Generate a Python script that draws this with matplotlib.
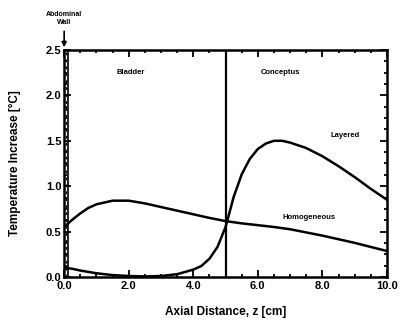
import matplotlib.pyplot as plt
import numpy as np
from matplotlib.ticker import MultipleLocator

# Data
z_hom = [0.0, 0.25, 0.5, 0.75, 1.0, 1.5, 2.0, 2.5, 3.0, 3.5, 4.0, 4.5, 5.0,
         5.5, 6.0, 6.5, 7.0, 7.5, 8.0, 8.5, 9.0, 9.5, 10.0]
t_hom = [0.55, 0.63, 0.70, 0.76, 0.80, 0.84, 0.84, 0.81, 0.77, 0.73, 0.69, 0.65, 0.615,
         0.59, 0.57, 0.55, 0.525, 0.49, 0.455, 0.415, 0.375, 0.33, 0.285]

z_lay = [0.0, 0.25, 0.5, 1.0, 1.5, 2.0, 2.5, 3.0, 3.5, 4.0, 4.25, 4.5, 4.75, 5.0,
         5.1, 5.25, 5.5, 5.75, 6.0, 6.25, 6.5, 6.75, 7.0, 7.5, 8.0, 8.5, 9.0, 9.5, 10.0]
t_lay = [0.10, 0.09, 0.07, 0.04, 0.02, 0.01, 0.005, 0.01, 0.03, 0.08, 0.12, 0.20, 0.33, 0.55,
         0.68, 0.88, 1.13, 1.30, 1.41, 1.47, 1.50, 1.50, 1.48, 1.42, 1.33, 1.22, 1.10, 0.97, 0.85]

boundary_z = 5.0
wall_width = 0.12

plt.rcParams['font.family'] = ['Liberation Sans', 'DejaVu Sans']
plt.rcParams['font.weight'] = 'bold'

fig = plt.figure(figsize=(4.01, 3.25), dpi=100)
ax = fig.add_axes([0.160, 0.148, 0.805, 0.698])

ax.plot(z_hom, t_hom, color='black', lw=1.8)
ax.plot(z_lay, t_lay, color='black', lw=1.8)
ax.axvline(boundary_z, color='black', lw=1.6)

# abdominal wall strip
ax.axvline(wall_width, color='black', lw=1.2)
ax.axvline(wall_width / 2, color='black', lw=1.0, ls=(0, (2, 3)))

ax.set_xlim(0, 10)
ax.set_ylim(0, 2.5)
ax.xaxis.set_major_locator(MultipleLocator(2))
ax.xaxis.set_minor_locator(MultipleLocator(0.5))
ax.yaxis.set_major_locator(MultipleLocator(0.5))
ax.yaxis.set_minor_locator(MultipleLocator(0.125))
ax.xaxis.set_major_formatter(plt.FormatStrFormatter('%.1f'))
ax.yaxis.set_major_formatter(plt.FormatStrFormatter('%.1f'))
ax.tick_params(which='both', direction='in', top=True, right=True, width=1.3)
ax.tick_params(which='major', length=5, labelsize=8)
ax.tick_params(axis='x', which='major', pad=3)
ax.tick_params(axis='y', which='major', pad=2)
ax.tick_params(which='minor', length=2.5)
for s in ax.spines.values():
    s.set_linewidth(1.8)

ax.set_xlabel('Axial Distance, z [cm]', fontsize=8.5, fontweight='bold', labelpad=11)
ax.set_ylabel('Temperature Increase [°C]', fontsize=8.5, fontweight='bold', labelpad=18)

ax.text(2.05, 2.25, 'Bladder', fontsize=5.5, fontweight='bold', ha='center', va='center')
ax.text(6.7, 2.25, 'Conceptus', fontsize=5.5, fontweight='bold', ha='center', va='center')
ax.text(8.7, 1.56, 'Layered', fontsize=5.5, fontweight='bold', ha='center', va='center')
ax.text(7.6, 0.66, 'Homogeneous', fontsize=5.5, fontweight='bold', ha='center', va='center')

ax.annotate('Abdominal\nWall', xy=(0, 2.5), xytext=(0, 2.85), textcoords='data',
            fontsize=5, fontweight='bold', ha='center', va='center', annotation_clip=False,
            arrowprops=dict(arrowstyle='-|>', color='black', lw=1.2, mutation_scale=7))

fig.savefig('out.png', dpi=100)
